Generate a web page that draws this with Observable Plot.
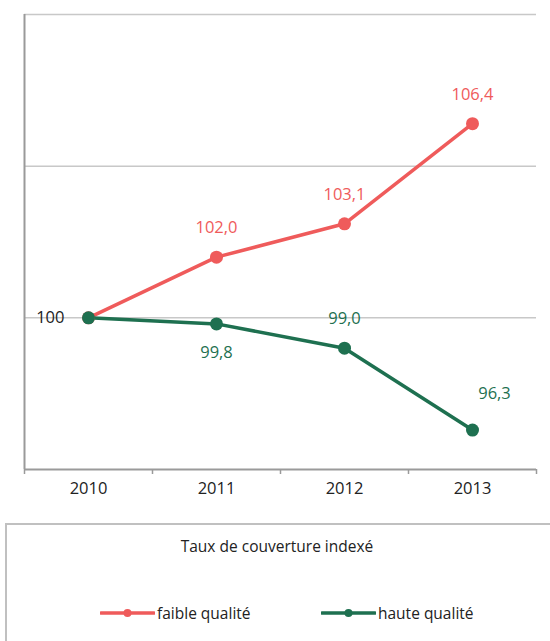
<!DOCTYPE html>
<html>
<head>
<meta charset="utf-8">
<script src="https://cdn.jsdelivr.net/npm/d3@7"></script>
<script src="https://cdn.jsdelivr.net/npm/@observablehq/plot@0.6"></script>
<style>
  body { margin: 0; background: #fff; font-family: "Open Sans", sans-serif; }
  #chart { position: absolute; left: 0; top: 0; }
  #legend {
    position: absolute; left: 5px; top: 523px; width: 560px; height: 140px;
    border: 2px solid #c0c0c0; box-sizing: border-box; color: #222;
  }
  #legend .title { position: absolute; left: 0; width: 540px; top: 10px; text-align: center; font-size: 15.5px; }
  #legend .item { position: absolute; top: 77px; font-size: 15.5px; display: flex; align-items: center; }
  #legend .item svg { margin-right: 2px; }
</style>
</head>
<body>
<div id="chart"></div>
<div id="legend">
  <div class="title">Taux de couverture indexé</div>
  <div class="item" style="left:93px"><svg width="55" height="10"><line x1="1" y1="5" x2="54" y2="5" stroke="#EF5B5B" stroke-width="3.5" stroke-linecap="round"/><circle cx="27.5" cy="5" r="4" fill="#EF5B5B"/></svg>faible qualité</div>
  <div class="item" style="left:314px"><svg width="55" height="10"><line x1="1" y1="5" x2="54" y2="5" stroke="#1E7050" stroke-width="3.5" stroke-linecap="round"/><circle cx="27.5" cy="5" r="4" fill="#1E7050"/></svg>haute qualité</div>
</div>
<script>
const years = [2010, 2011, 2012, 2013];
const faible = [100, 102.0, 103.1, 106.4];
const haute = [100, 99.8, 99.0, 96.3];
const gridValues = [100, 105, 110];
const bandEdges = [2009.5, 2010.5, 2011.5, 2012.5, 2013.5];

const red = "#EF5B5B";
const green = "#1E7050";
const fmt = d3.format(".1f");
const lab = v => fmt(v).replace(".", ",");

const rows = s => years.map((y, i) => ({year: y, v: s[i], i}));
const fRows = rows(faible);
const hRows = rows(haute);
const FS = 16.5;

const chart = Plot.plot({
  width: 550,
  height: 505,
  marginTop: 14,
  marginLeft: 24,
  marginRight: 14,
  marginBottom: 36,
  style: {fontFamily: "Open Sans, sans-serif", fontSize: "16px", background: "#fff"},
  x: {domain: [2009.5, 2013.5], axis: null, label: null},
  y: {domain: [95, 110], axis: null, label: null},
  marks: [
    Plot.ruleY(gridValues, {stroke: "#c8c8c8", strokeWidth: 1.5}),
    Plot.ruleX([2009.5], {stroke: "#9a9a9a", strokeWidth: 2}),
    Plot.ruleY([95], {stroke: "#9a9a9a", strokeWidth: 2}),
    Plot.axisX(bandEdges, {tickSize: 5, tickFormat: () => "", stroke: "#9a9a9a", strokeWidth: 1.5, label: null}),
    Plot.axisX(years, {tickSize: 0, tickPadding: 13, tickFormat: d => String(d), fill: "#222", fontSize: FS, label: null}),
    Plot.line(fRows, {x: "year", y: "v", stroke: red, strokeWidth: 3.5}),
    Plot.line(hRows, {x: "year", y: "v", stroke: green, strokeWidth: 3.5}),
    Plot.dot(fRows, {x: "year", y: "v", fill: red, r: 6.5}),
    Plot.dot(hRows, {x: "year", y: "v", fill: green, r: 6.5}),
    Plot.text(fRows.filter(d => d.i > 0), {x: "year", y: "v", text: d => lab(d.v), fill: red, dy: -29, fontSize: FS}),
    Plot.text(hRows.filter(d => d.i === 1), {x: "year", y: "v", text: d => lab(d.v), fill: green, dy: 29, fontSize: FS}),
    Plot.text(hRows.filter(d => d.i === 2), {x: "year", y: "v", text: d => lab(d.v), fill: green, dy: -29, fontSize: FS}),
    Plot.text(hRows.filter(d => d.i === 3), {x: "year", y: "v", text: d => lab(d.v), fill: green, dy: -36, dx: 22, fontSize: FS}),
    Plot.text(fRows.filter(d => d.i === 0), {x: "year", y: "v", text: d => String(d.v), fill: "#222", textAnchor: "end", dx: -24, fontSize: FS})
  ]
});
document.getElementById("chart").appendChild(chart);
</script>
</body>
</html>
